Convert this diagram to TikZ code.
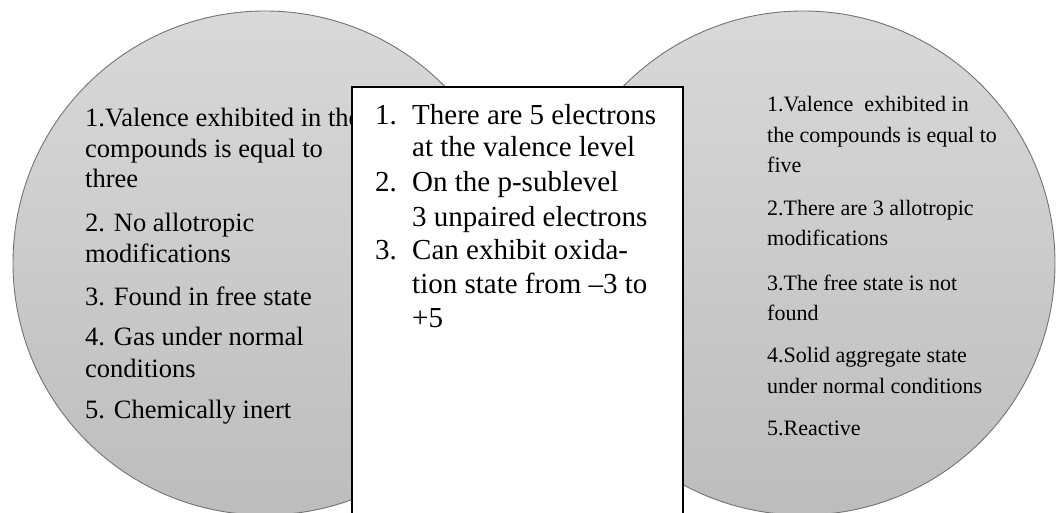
\documentclass[tikz,border=0pt]{standalone}
\usepackage{fontspec}
\setmainfont{Liberation Serif}
\tikzset{
  blob/.style={draw=black!55, line width=0.9pt, top color=black!15, bottom color=black!26},
  boxframe/.style={draw=black, line width=1.3pt, fill=white},
  lt/.style={anchor=base west, inner sep=0pt, font=\fontsize{26.5}{30}\selectfont},
  bt/.style={anchor=base west, inner sep=0pt, font=\fontsize{29}{34}\selectfont},
  rt/.style={anchor=base west, inner sep=0pt, font=\fontsize{22}{26}\selectfont},
}
\begin{document}
\begin{tikzpicture}[x=1pt,y=-1pt]
\useasboundingbox (0,0) rectangle (1057,513);
\clip (0,0) rectangle (1057,513);
% circles
\path[blob] (265,263) circle[radius=252];
\path[blob] (803,263) circle[radius=252];
% left texts
\node[lt] (l1a) at (85,127) {1.Valence exhibited in the};
\node[lt] (l1b) at (85,158) {compounds is equal to};
\node[lt] (l1c) at (85,188) {three};
\node[lt] (l2a) at (85,232) {2. No allotropic};
\node[lt] (l2b) at (85,262) {modifications};
\node[lt] (l3a) at (85,305) {3. Found in free state};
\node[lt] (l4a) at (85,345) {4. Gas under normal};
\node[lt] (l4b) at (85,377) {conditions};
\node[lt] (l5a) at (85,418) {5. Chemically inert};
% right texts
\node[rt] (r1a) at (767,112) {1.Valence \ exhibited in};
\node[rt] (r1b) at (767,143) {the compounds is equal to};
\node[rt] (r1c) at (767,173) {five};
\node[rt] (r2a) at (767,215) {2.There are 3 allotropic};
\node[rt] (r2b) at (767,245) {modifications};
\node[rt] (r3a) at (767,290) {3.The free state is not};
\node[rt] (r3b) at (767,320) {found};
\node[rt] (r4a) at (767,362) {4.Solid aggregate state};
\node[rt] (r4b) at (767,393) {under normal conditions};
\node[rt] (r5a) at (767,435) {5.Reactive};
% middle box
\path[boxframe] (352,87) rectangle (683,530);
\node[bt] (n1) at (375,125) {1.};
\node[bt] (m1a) at (412,125) {There are 5 electrons};
\node[bt] (m1b) at (412,157) {at the valence level};
\node[bt] (n2) at (375,192) {2.};
\node[bt] (m2a) at (412,192) {On the p-sublevel};
\node[bt] (m2b) at (412,226) {3 unpaired electrons};
\node[bt] (n3) at (375,259) {3.};
\node[bt] (m3a) at (412,259) {Can exhibit oxida-};
\node[bt] (m3b) at (412,293) {tion state from –3 to};
\node[bt] (m3c) at (412,327) {+5};
\end{tikzpicture}
\end{document}
